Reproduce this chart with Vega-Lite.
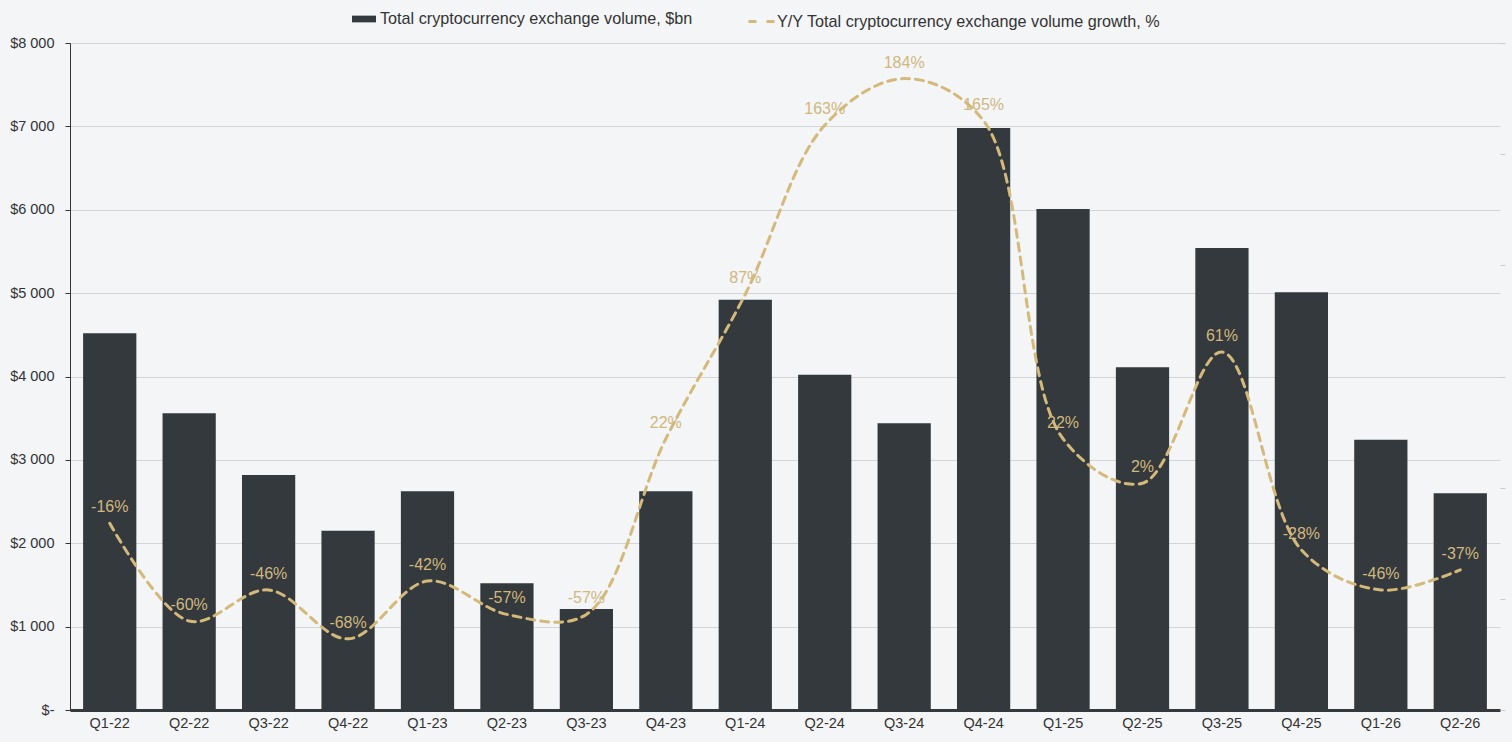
{
  "$schema": "https://vega.github.io/schema/vega-lite/v6.json",
  "width": 1430,
  "height": 667,
  "autosize": "none",
  "padding": {"left": 70, "top": 43, "right": 12, "bottom": 32},
  "background": "#f3f5f7",
  "data": {
    "values": [
      {"quarter": "Q1-22", "volume": 4520, "growth": -16, "label": "-16%"},
      {"quarter": "Q2-22", "volume": 3560, "growth": -60, "label": "-60%"},
      {"quarter": "Q3-22", "volume": 2820, "growth": -46, "label": "-46%"},
      {"quarter": "Q4-22", "volume": 2150, "growth": -68, "label": "-68%"},
      {"quarter": "Q1-23", "volume": 2625, "growth": -42, "label": "-42%"},
      {"quarter": "Q2-23", "volume": 1520, "growth": -57, "label": "-57%"},
      {"quarter": "Q3-23", "volume": 1210, "growth": -57, "label": "-57%"},
      {"quarter": "Q4-23", "volume": 2625, "growth": 22, "label": "22%"},
      {"quarter": "Q1-24", "volume": 4920, "growth": 87, "label": "87%"},
      {"quarter": "Q2-24", "volume": 4020, "growth": 163, "label": "163%"},
      {"quarter": "Q3-24", "volume": 3440, "growth": 184, "label": "184%"},
      {"quarter": "Q4-24", "volume": 6980, "growth": 165, "label": "165%"},
      {"quarter": "Q1-25", "volume": 6010, "growth": 22, "label": "22%"},
      {"quarter": "Q2-25", "volume": 4110, "growth": 2, "label": "2%"},
      {"quarter": "Q3-25", "volume": 5540, "growth": 61, "label": "61%"},
      {"quarter": "Q4-25", "volume": 5010, "growth": -28, "label": "-28%"},
      {"quarter": "Q1-26", "volume": 3240, "growth": -46, "label": "-46%"},
      {"quarter": "Q2-26", "volume": 2600, "growth": -37, "label": "-37%"}
    ]
  },
  "encoding": {
    "x": {
      "field": "quarter", "type": "ordinal", "sort": null, "title": null,
      "scale": {"paddingInner": 0.33, "paddingOuter": 0.165},
      "axis": {
        "labelAngle": 0, "ticks": false, "labelPadding": 6,
        "domainColor": "#33393c", "domainWidth": 3
      }
    }
  },
  "layer": [
    {
      "mark": {"type": "bar"},
      "encoding": {
        "y": {
          "field": "volume", "type": "quantitative", "title": null,
          "scale": {"domain": [0, 8000]},
          "axis": {
            "orient": "left", "tickCount": 8, "grid": true,
            "gridColor": "#d3d4d6", "domainColor": "#333333",
            "tickColor": "#333333", "tickSize": 5, "labelPadding": 11,
            "labelExpr": "datum.value == 0 ? '$-' : '$' + replace(format(datum.value, ','), ',', ' ')"
          }
        },
        "fill": {
          "datum": "Total cryptocurrency exchange volume, $bn",
          "type": "nominal",
          "scale": {"range": ["#33393c"]},
          "legend": {
            "orient": "none", "legendX": 282, "legendY": -36, "title": null,
            "symbolType": "M-1,-0.28H1V0.28H-1Z", "symbolSize": 576,
            "symbolStrokeWidth": 0, "labelOffset": 4, "labelLimit": 0,
            "labelFontSize": 16.2, "labelColor": "#333333"
          }
        }
      }
    },
    {
      "encoding": {
        "y": {
          "field": "growth", "type": "quantitative", "title": null,
          "scale": {"domain": [-100, 200]},
          "axis": {
            "orient": "right", "tickCount": 6, "labels": false,
            "domain": false, "grid": false, "tickColor": "#c8c9cb", "tickSize": 5
          }
        }
      },
      "layer": [
        {
          "mark": {
            "type": "line", "interpolate": "catmull-rom",
            "strokeWidth": 3, "strokeDash": [8, 6], "strokeCap": "round"
          },
          "encoding": {
            "stroke": {
              "datum": "Y/Y Total cryptocurrency exchange volume growth, %",
              "type": "nominal",
              "scale": {"range": ["#d4b97a"]},
              "legend": {
                "orient": "none", "legendX": 677, "legendY": -36, "title": null,
                "symbolType": "stroke", "symbolSize": 676, "symbolDash": [8, 10],
                "symbolStrokeWidth": 3, "labelOffset": 1, "labelLimit": 0,
                "labelFontSize": 16.2, "labelColor": "#333333"
              }
            }
          }
        },
        {
          "mark": {
            "type": "text", "dy": -16, "fontSize": 16,
            "color": "#d1b77c", "font": "Liberation Sans"
          },
          "encoding": {"text": {"field": "label"}}
        }
      ]
    }
  ],
  "resolve": {"scale": {"y": "independent"}},
  "config": {
    "font": "Liberation Sans",
    "view": {"stroke": null},
    "axis": {"labelFontSize": 14.5, "labelColor": "#333333", "labelFont": "Liberation Sans"},
    "legend": {"labelFont": "Liberation Sans"}
  }
}
